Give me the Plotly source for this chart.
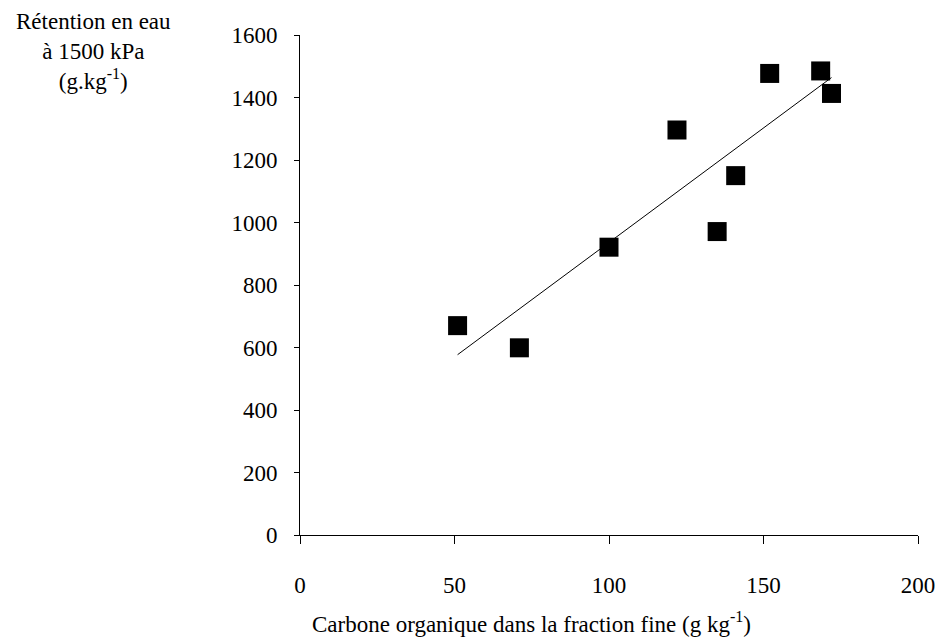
import numpy as np
import plotly.graph_objects as go

# Data
carbone = [51, 71, 100, 122, 135, 141, 152, 168.5, 172]
retention = [670, 599, 921, 1296, 971, 1150, 1477, 1485, 1413]

x_ticks = [0, 50, 100, 150, 200]
y_ticks = [0, 200, 400, 600, 800, 1000, 1200, 1400, 1600]

# Linear regression line
slope, intercept = np.polyfit(carbone, retention, 1)
x_fit = [min(carbone), max(carbone)]
y_fit = [slope * v + intercept for v in x_fit]

FONT = "Liberation Serif"

fig = go.Figure()
fig.add_trace(go.Scatter(
    x=x_fit, y=y_fit, mode="lines",
    line=dict(color="black", width=1), showlegend=False, hoverinfo="skip"))
fig.add_trace(go.Scatter(
    x=carbone, y=retention, mode="markers",
    marker=dict(symbol="square", size=19, color="black"),
    showlegend=False, cliponaxis=False))

W, H = 938, 643
L, R, T, B = 300, 20, 35, 108
pw, ph = W - L - R, H - T - B


def px_x(x):
    return (x - L) / pw


def px_y(y):
    return (T + ph - y) / ph


fig.update_layout(
    width=W, height=H,
    margin=dict(l=L, r=R, t=T, b=B, autoexpand=False),
    paper_bgcolor="white", plot_bgcolor="white",
    font=dict(family=FONT, size=23, color="black"),
    xaxis=dict(range=[0, 200], tickvals=x_ticks, showgrid=False, zeroline=False,
               showline=True, linecolor="black", linewidth=1, automargin=False,
               ticks="outside", ticklen=8, tickcolor="black", tickwidth=1,
               ticklabelstandoff=21, ticklabeloverflow="allow"),
    yaxis=dict(range=[0, 1600], tickvals=y_ticks, showgrid=False, zeroline=False,
               showline=True, linecolor="black", linewidth=1, automargin=False,
               ticks="outside", ticklen=5, tickcolor="black", tickwidth=1,
               ticklabelstandoff=12),
    annotations=[
        dict(text="Rétention en eau<br>à 1500 kPa<br>(g.kg<sup>-1</sup>)",
             xref="paper", yref="paper", x=px_x(93), y=px_y(7),
             xanchor="center", yanchor="top", showarrow=False, align="center",
             font=dict(family=FONT, size=23)),
        dict(text="Carbone organique dans la fraction fine (g kg<sup>-1</sup>)",
             xref="paper", yref="paper", x=px_x(531), y=px_y(622),
             xanchor="center", yanchor="middle", showarrow=False,
             font=dict(family=FONT, size=23)),
    ],
)

fig.write_html("out.html",
               config={"displayModeBar": False},
               post_script="document.body.style.margin='0';document.body.style.overflow='hidden';")
